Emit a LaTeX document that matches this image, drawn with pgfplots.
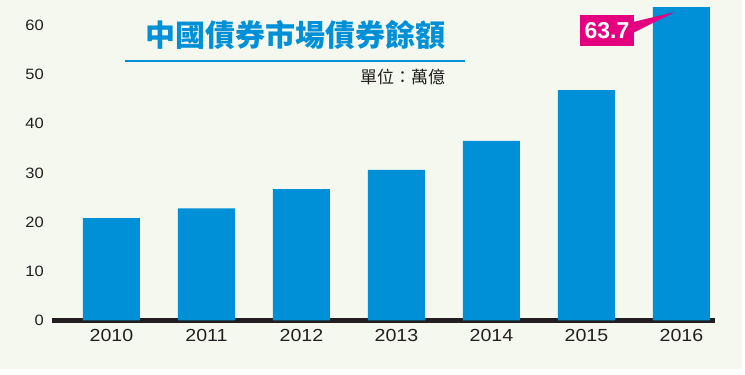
\documentclass[border=0pt]{standalone}
\usepackage{pgfplots}
\pgfplotsset{compat=1.18}
\usepackage{fontspec}
\setmainfont{Liberation Sans}
\newfontfamily\cjk{Noto Sans CJK TC}
\definecolor{bg}{HTML}{F5F8EE}
\definecolor{barblue}{HTML}{0090D7}
\definecolor{mag}{HTML}{E5007F}
\definecolor{txt}{HTML}{231F20}
\begin{document}
\begin{tikzpicture}[x=1pt,y=1pt]
\path[use as bounding box] (0,0) rectangle (745,375);
\fill[bg] (0,6) rectangle (742,375);
\begin{axis}[
  at={(52pt,54.5pt)}, anchor=south west,
  scale only axis, width=663pt, height=319.8pt,
  xmin=-0.626, xmax=6.353, ymin=0, ymax=65,
  axis x line*=bottom, axis y line*=left,
  x axis line style={-, line width=5pt, color=txt},
  y axis line style={draw=none},
  major tick length=0pt,
  xtick=data, xticklabels={2010,2011,2012,2013,2014,2015,2016},
  ytick={0,10,20,30,40,50,60},
  /pgf/number format/assume math mode=true,
  yticklabel style={anchor=east, inner sep=0pt, xshift=-8pt, xscale=1.1, font=\fontsize{15}{15}\selectfont, text=txt},
  xticklabel style={anchor=north, inner sep=0pt, yshift=-9pt, xscale=1.12, font=\fontsize{17.5}{17.5}\selectfont, text=txt},
  ybar, bar width=0.6, bar shift=0pt,
  clip=false,
]
\addplot[fill=barblue, draw=none] coordinates {(0,20.8) (1,22.8) (2,26.7) (3,30.6) (4,36.5) (5,46.8) (6,63.7)};
\end{axis}
% title
\node[font=\cjk\bfseries\fontsize{30}{30}\selectfont, text=barblue] at (295.5,340) {中國債券市場債券餘額};
\draw[barblue, line width=1.2pt] (125,314) -- (465,314);
\node[font=\cjk\fontsize{17}{17}\selectfont, text=txt] at (402.5,298) {單位：萬億};
% annotation
\fill[mag] (633,353) -- (675,363) -- (633,342) -- cycle;
\fill[mag] (580,329) rectangle (634,360);
\node[font=\bfseries\fontsize{23}{23}\selectfont, text=white] at (607,344.5) {63.7};
\end{tikzpicture}
\end{document}
